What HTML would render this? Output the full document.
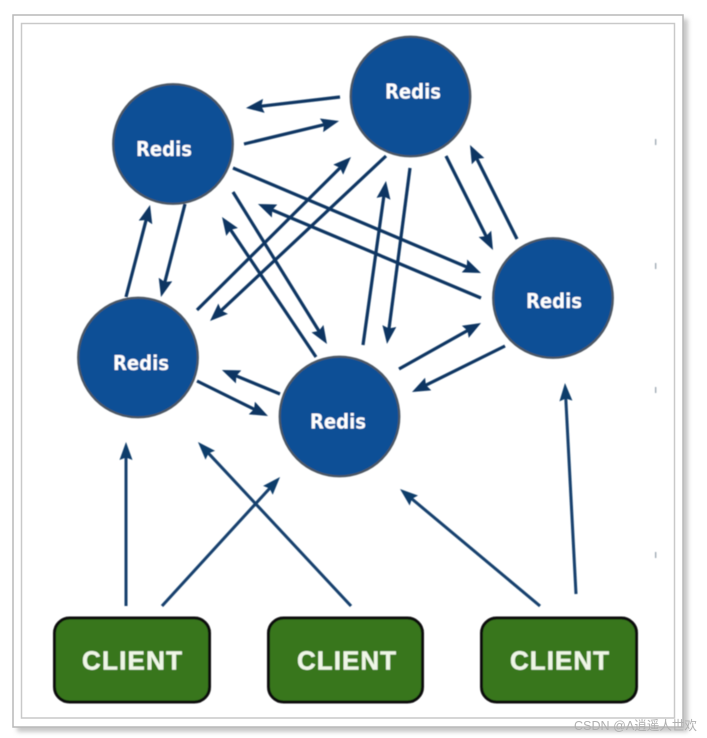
<!DOCTYPE html>
<html>
<head>
<meta charset="utf-8">
<style>
html,body{margin:0;padding:0;background:#fff;width:707px;height:738px;overflow:hidden}
svg{display:block}
</style>
</head>
<body>
<svg width="707" height="738" viewBox="0 0 707 738" xmlns="http://www.w3.org/2000/svg">
<defs>
<marker id="a" markerUnits="userSpaceOnUse" markerWidth="18" markerHeight="16" viewBox="0 0 18 16" refX="8" refY="8" orient="auto">
<path d="M0 1L18 8L0 15L2.5 8Z" fill="#0b3662"/>
</marker>
<marker id="b" markerUnits="userSpaceOnUse" markerWidth="18" markerHeight="16" viewBox="0 0 18 16" refX="8" refY="8" orient="auto">
<path d="M0 1.5L18 8L0 14.5L2.5 8Z" fill="#0f3d6b"/>
</marker>
<filter id="s" x="-5%" y="-5%" width="110%" height="110%"><feGaussianBlur stdDeviation="2.2"/></filter>
<filter id="t" x="-5%" y="-5%" width="110%" height="110%"><feGaussianBlur stdDeviation="0.45"/></filter>
</defs>

<rect x="17" y="19" width="671" height="713" fill="#c8c8c8" filter="url(#s)"/>
<rect x="13" y="15" width="670" height="712" fill="#fff" stroke="#b9b9b9" stroke-width="1.5"/>
<rect x="21.5" y="23.5" width="653" height="694.5" fill="#fff" stroke="#c9c9c9" stroke-width="1.5"/>

<g filter="url(#t)">
<g fill="#9aa5b0">
<rect x="655" y="139" width="1.3" height="6"/>
<rect x="655" y="263" width="1.3" height="6"/>
<rect x="655" y="387" width="1.3" height="6"/>
<rect x="655" y="552" width="1.3" height="6"/>
</g>

<g stroke="#0b3662" stroke-width="3.2" fill="none">
<line x1="340" y1="97" x2="255.9" y2="106.8" marker-end="url(#a)"/>
<line x1="244" y1="144" x2="329.3" y2="123.4" marker-end="url(#a)"/>
<line x1="233" y1="168" x2="471.8" y2="269.1" marker-end="url(#a)"/>
<line x1="481" y1="298" x2="267.2" y2="207.9" marker-end="url(#a)"/>
<line x1="233" y1="192" x2="321.7" y2="335.5" marker-end="url(#a)"/>
<line x1="316" y1="357" x2="227.6" y2="225.3" marker-end="url(#a)"/>
<line x1="197" y1="310" x2="343.9" y2="164" marker-end="url(#a)"/>
<line x1="386" y1="156" x2="217.3" y2="314.2" marker-end="url(#a)"/>
<line x1="185" y1="204" x2="163.5" y2="287.3" marker-end="url(#a)"/>
<line x1="126" y1="297" x2="147.5" y2="214.7" marker-end="url(#a)"/>
<line x1="446" y1="156" x2="488.5" y2="241" marker-end="url(#a)"/>
<line x1="517" y1="239" x2="474.5" y2="154" marker-end="url(#a)"/>
<line x1="410" y1="168" x2="388.3" y2="334" marker-end="url(#a)"/>
<line x1="363" y1="345" x2="384.6" y2="190.9" marker-end="url(#a)"/>
<line x1="399" y1="369" x2="472.3" y2="327.9" marker-end="url(#a)"/>
<line x1="505" y1="346" x2="421" y2="387.6" marker-end="url(#a)"/>
<line x1="280" y1="394" x2="231.2" y2="373.8" marker-end="url(#a)"/>
<line x1="197" y1="381" x2="259" y2="411.6" marker-end="url(#a)"/>
</g>
<g stroke="#123f6d" stroke-width="3" fill="none">
<line x1="126" y1="606" x2="126" y2="452" marker-end="url(#b)"/>
<line x1="162" y1="606" x2="273.3" y2="484.4" marker-end="url(#b)"/>
<line x1="351" y1="606" x2="204.8" y2="449.3" marker-end="url(#b)"/>
<line x1="540" y1="606" x2="407.7" y2="495.4" marker-end="url(#b)"/>
<line x1="576" y1="594" x2="565.5" y2="393" marker-end="url(#b)"/>
</g>

<g fill="#0e5096" stroke="#4b5763" stroke-width="2.2">
<circle cx="173" cy="144" r="59.8"/>
<circle cx="410.5" cy="96.5" r="59.8"/>
<circle cx="553" cy="298" r="59.8"/>
<circle cx="138" cy="357.5" r="59.8"/>
<circle cx="339.5" cy="416.5" r="59.8"/>
</g>
<g fill="#ffffff" font-family="'DejaVu Sans','Liberation Sans',sans-serif" font-weight="bold" font-size="20">
<text x="136" y="156" textLength="56" lengthAdjust="spacingAndGlyphs">Redis</text>
<text x="385" y="98.5" textLength="56" lengthAdjust="spacingAndGlyphs">Redis</text>
<text x="526" y="308" textLength="56" lengthAdjust="spacingAndGlyphs">Redis</text>
<text x="113" y="370" textLength="56" lengthAdjust="spacingAndGlyphs">Redis</text>
<text x="310" y="428.5" textLength="56" lengthAdjust="spacingAndGlyphs">Redis</text>
</g>

<g fill="#38761d" stroke="#0a0a0a" stroke-width="3">
<rect x="54.5" y="618" width="155" height="84" rx="15"/>
<rect x="268.5" y="618" width="154" height="84" rx="15"/>
<rect x="481.5" y="618" width="155" height="84" rx="15"/>
</g>
<g fill="#eef6e6" stroke="#eef6e6" stroke-width="0.4" font-family="'Liberation Sans',sans-serif" font-weight="bold" font-size="26">
<text x="82" y="669.5" textLength="100" lengthAdjust="spacing">CLIENT</text>
<text x="297" y="669.5" textLength="99" lengthAdjust="spacing">CLIENT</text>
<text x="510" y="669.5" textLength="99" lengthAdjust="spacing">CLIENT</text>
</g>
</g>

<text x="574" y="730" font-family="'Liberation Sans','Noto Sans CJK SC',sans-serif" font-size="13" fill="#b0b0b0" textLength="123" lengthAdjust="spacingAndGlyphs">CSDN @A逍遥人世欢</text>
</svg>
</body>
</html>
